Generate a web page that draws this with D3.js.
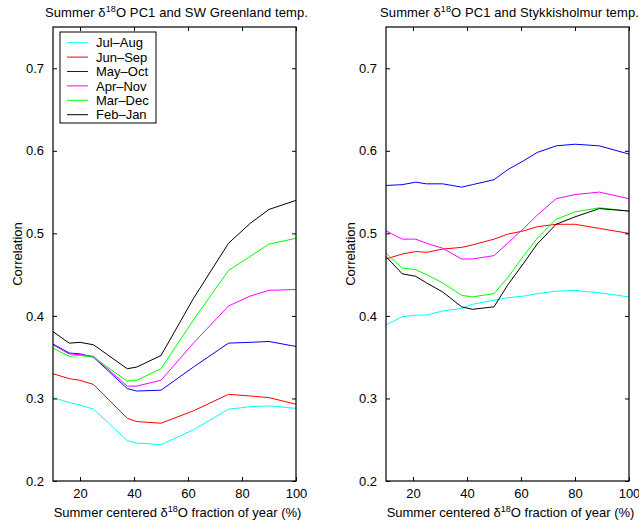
<!DOCTYPE html>
<html>
<head>
<meta charset="utf-8">
<script src="https://cdn.jsdelivr.net/npm/d3@7"></script>
<style>
  body { margin: 0; background: #fff; }
  text { font-family: "Liberation Sans", Arial, Helvetica, sans-serif; }
</style>
</head>
<body>
<svg id="chart" width="639" height="527"></svg>
<script>
// series names / colours (shared by both panels)
const seriesNames = ['Jul–Aug', 'Jun–Sep', 'May–Oct', 'Apr–Nov', 'Mar–Dec', 'Feb–Jan'];
const seriesColors = ['#00ffff', '#ff0000', '#0000ff', '#ff00ff', '#00ff00', '#000000'];

const xTicks = [20, 40, 60, 80, 100];
const yTicks = [0.2, 0.3, 0.4, 0.5, 0.6, 0.7];

// left panel: SW Greenland
const greenlandX = [10, 16, 20, 25, 37.5, 41, 50, 62, 75, 83, 90, 100];
const greenlandJulAug = [0.301, 0.295, 0.292, 0.287, 0.249, 0.246, 0.244, 0.262, 0.287, 0.290, 0.291, 0.288];
const greenlandJunSep = [0.330, 0.324, 0.322, 0.317, 0.276, 0.272, 0.270, 0.285, 0.305, 0.303, 0.301, 0.293];
const greenlandMayOct = [0.366, 0.355, 0.354, 0.350, 0.312, 0.309, 0.310, 0.338, 0.367, 0.368, 0.369, 0.363];
const greenlandAprNov = [0.365, 0.354, 0.353, 0.351, 0.315, 0.315, 0.322, 0.367, 0.412, 0.424, 0.431, 0.432];
const greenlandMarDec = [0.361, 0.351, 0.352, 0.350, 0.321, 0.322, 0.336, 0.395, 0.455, 0.472, 0.487, 0.494];
const greenlandFebJan = [0.381, 0.367, 0.368, 0.365, 0.336, 0.338, 0.352, 0.421, 0.488, 0.512, 0.529, 0.540];

// right panel: Stykkisholmur
const stykkX = [10, 16, 21, 25, 31, 38, 42, 50, 55, 61, 66, 73, 80, 89, 100];
const stykkJulAug = [0.389, 0.399, 0.401, 0.401, 0.406, 0.409, 0.414, 0.419, 0.422, 0.424, 0.427, 0.430, 0.431, 0.428, 0.423];
const stykkJunSep = [0.469, 0.475, 0.478, 0.477, 0.481, 0.483, 0.486, 0.493, 0.499, 0.503, 0.508, 0.511, 0.511, 0.506, 0.500];
const stykkMayOct = [0.558, 0.559, 0.562, 0.560, 0.560, 0.556, 0.559, 0.565, 0.577, 0.588, 0.598, 0.606, 0.608, 0.606, 0.596];
const stykkAprNov = [0.503, 0.493, 0.493, 0.488, 0.482, 0.469, 0.469, 0.473, 0.488, 0.506, 0.522, 0.542, 0.547, 0.550, 0.542];
const stykkMarDec = [0.476, 0.458, 0.456, 0.450, 0.440, 0.425, 0.423, 0.427, 0.446, 0.473, 0.494, 0.517, 0.526, 0.531, 0.527];
const stykkFebJan = [0.472, 0.451, 0.448, 0.440, 0.429, 0.411, 0.408, 0.411, 0.437, 0.464, 0.487, 0.511, 0.520, 0.530, 0.527];

const svg = d3.select('#chart');
const FS = 13;

function drawPanel(left, titleRest, xs, seriesList, showLegend) {
  const right = left + 243;
  const top = 27, bottom = 481;

  const x = d3.scaleLinear().domain([10, 100]).range([left, right]);
  const y = d3.scaleLinear().domain([0.2, 0.75]).range([bottom, top]);

  const g = svg.append('g');

  // curves
  const line = d3.line().x(d => x(d[0])).y(d => y(d[1]));
  seriesList.forEach((vals, i) => {
    g.append('path')
      .datum(xs.map((xv, j) => [xv, vals[j]]))
      .attr('d', line)
      .attr('fill', 'none')
      .attr('stroke', seriesColors[i])
      .attr('stroke-width', 1);
  });

  // axes with inward ticks, mirrored on top / right
  const bottomAxis = d3.axisBottom(x).tickValues(xTicks).tickSizeInner(-4).tickSizeOuter(0).tickPadding(8);
  const topAxis = d3.axisTop(x).tickValues(xTicks).tickSizeInner(-4).tickSizeOuter(0).tickFormat('');
  const leftAxis = d3.axisLeft(y).tickValues(yTicks).tickSizeInner(-4).tickSizeOuter(0).tickPadding(9).tickFormat(d3.format('.1f'));
  const rightAxis = d3.axisRight(y).tickValues(yTicks).tickSizeInner(-4).tickSizeOuter(0).tickFormat('');

  g.append('g').attr('transform', `translate(0,${bottom})`).call(bottomAxis);
  g.append('g').attr('transform', `translate(0,${top})`).call(topAxis);
  g.append('g').attr('transform', `translate(${left},0)`).call(leftAxis);
  g.append('g').attr('transform', `translate(${right},0)`).call(rightAxis);

  g.selectAll('.domain').remove();
  g.selectAll('.tick line').attr('stroke', '#000');
  g.selectAll('.tick text').attr('font-size', FS).attr('fill', '#000')
    .style('font-family', '"Liberation Sans", Arial, sans-serif');

  g.append('rect')
    .attr('x', left).attr('y', top)
    .attr('width', right - left).attr('height', bottom - top)
    .attr('fill', 'none').attr('stroke', '#000').attr('stroke-width', 1.2);

  // title
  const cx = (left + right) / 2;
  const title = g.append('text').attr('x', cx + 2).attr('y', 17)
    .attr('text-anchor', 'middle').attr('font-size', FS).attr('letter-spacing', 0.1);
  title.append('tspan').text('Summer δ');
  title.append('tspan').attr('font-size', 9).attr('dy', -5).text('18');
  title.append('tspan').attr('dy', 5).text('O PC1 and ' + titleRest);

  // x label
  const xl = g.append('text').attr('x', cx + 3).attr('y', 517)
    .attr('text-anchor', 'middle').attr('font-size', FS);
  xl.append('tspan').text('Summer centered δ');
  xl.append('tspan').attr('font-size', 9).attr('dy', -5).text('18');
  xl.append('tspan').attr('dy', 5).text('O fraction of year (%)');

  // y label
  g.append('text')
    .attr('transform', `translate(${left - 31},${(top + bottom) / 2}) rotate(-90)`)
    .attr('text-anchor', 'middle').attr('font-size', FS)
    .text('Correlation');

  if (showLegend) {
    const lg = g.append('g');
    lg.append('rect').attr('x', 60).attr('y', 32).attr('width', 96).attr('height', 91)
      .attr('fill', '#fff').attr('stroke', '#000').attr('stroke-width', 1);
    seriesNames.forEach((name, i) => {
      const ry = 42.7 + i * 14.4;
      lg.append('line').attr('x1', 67).attr('x2', 88).attr('y1', ry).attr('y2', ry)
        .attr('stroke', seriesColors[i]).attr('stroke-width', 1);
      lg.append('text').attr('x', 96).attr('y', ry + 4.7).attr('font-size', FS).text(name);
    });
  }
}

drawPanel(53, 'SW Greenland temp.', greenlandX,
  [greenlandJulAug, greenlandJunSep, greenlandMayOct, greenlandAprNov, greenlandMarDec, greenlandFebJan], true);
drawPanel(386, 'Stykkisholmur temp.', stykkX,
  [stykkJulAug, stykkJunSep, stykkMayOct, stykkAprNov, stykkMarDec, stykkFebJan], false);
</script>
</body>
</html>
